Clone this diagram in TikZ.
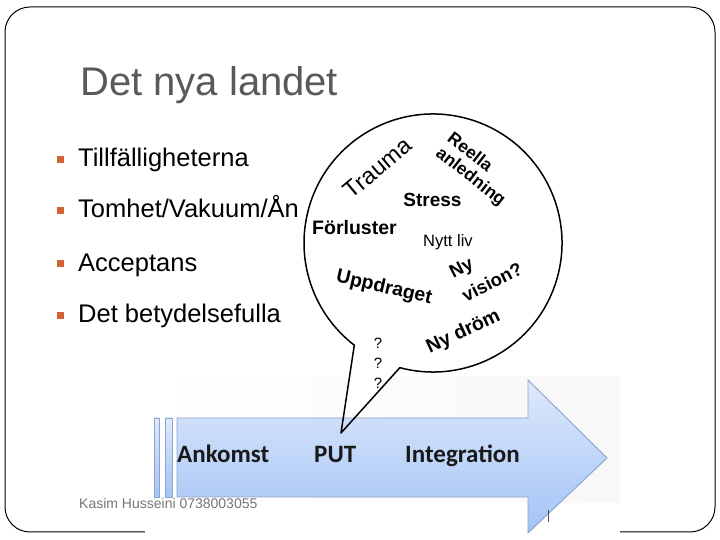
\documentclass[tikz,border=0pt]{standalone}
\usepackage{fontspec}
\setmainfont{Liberation Sans}
\newfontfamily\calib{Carlito}
\begin{document}
\begin{tikzpicture}[x=1pt,y=1pt,
  bullettxt/.style={anchor=base west,inner sep=0pt,font=\fontsize{25.5}{30}\selectfont},
  bubtxt/.style={inner sep=0pt,font=\bfseries\fontsize{19.5}{22}\selectfont},
  arrowlbl/.style={anchor=base west,inner sep=0pt,text={rgb,255:red,25;green,25;blue,25},font=\calib\bfseries\fontsize{25}{28}\selectfont},
  bulletsq/.style={fill={rgb,255:red,208;green,98;blue,52},minimum size=7pt,inner sep=0pt},
  arrowsty/.style={draw={rgb,255:red,140;green,162;blue,204},line width=0.9pt,
     top color={rgb,255:red,222;green,233;blue,252},bottom color={rgb,255:red,163;green,195;blue,246}}
]
\useasboundingbox (0,0) rectangle (720,540);
\fill[white] (0,0) rectangle (720,540);
% slide frame
\draw[line width=1pt] (5,8) [rounded corners=25pt] rectangle (715,533);
% picture background covering bottom frame
\shade[left color=white,right color={rgb,255:red,248;green,248;blue,248}] (145,37) rectangle (620,163);
\fill[white] (145,-1) rectangle (620,37);
% title
\node[anchor=base west,inner sep=0pt,text={rgb,255:red,89;green,89;blue,89},font=\fontsize{40}{46}\selectfont] (title) at (80,444) {Det nya landet};
% bullets
\node[bulletsq] (b1) at (60.5,380) {};
\node[bullettxt] (t1) at (78,373) {Tillfälligheterna};
\node[bulletsq] (b2) at (60.5,329) {};
\node[bullettxt] (t2) at (78,322) {Tomhet/Vakuum/Ån};
\node[bulletsq] (b3) at (60.5,276) {};
\node[bullettxt] (t3) at (78,268) {Acceptans};
\node[bulletsq] (b4) at (60.5,224) {};
\node[bullettxt] (t4) at (78,217) {Det betydelsefulla};
% speech bubble fill
\coordinate (C) at (433,297);
\coordinate (T) at (341,107);
\fill[white] (C) ++(255.1:129) arc[start angle=255.1,end angle=592.4,radius=129] -- (T) -- cycle;
% arrow
\path[arrowsty] (154,43) rectangle (159,122);
\path[arrowsty] (165,43) rectangle (172,122);
\path[arrowsty] (177,43) -- (528,43) -- (528,7) -- (607,82) -- (528,160) -- (528,122) -- (177,122) -- cycle;
\draw[line width=0.8pt,black!70] (548,18) -- (548,30);
% bubble outline
\draw[line width=1.5pt,line join=round] (C) ++(255.1:129) arc[start angle=255.1,end angle=592.4,radius=129] -- (T) -- cycle;
% bubble texts
\node[inner sep=0pt,rotate=40,font=\fontsize{23.5}{26}\selectfont] (trauma) at (377.5,372) {Trauma};
\node[inner sep=0pt,rotate=-38,align=left,font=\bfseries\fontsize{17.5}{18.5}\selectfont] (reella) at (476,370) {Reella\\anledning};
\node[bubtxt,font=\bfseries\fontsize{19}{22}\selectfont] (stress) at (432.5,340.5) {Stress};
\node[bubtxt,anchor=base west] (forl) at (312,305) {Förluster};
\node[inner sep=0pt,anchor=base west,font=\fontsize{16.5}{19}\selectfont] (nytt) at (423,293) {Nytt liv};
\node[bubtxt,rotate=-13] (uppd) at (384,252) {Uppdraget};
\node[bubtxt,rotate=27,font=\bfseries\fontsize{18.5}{21}\selectfont] (ny) at (462,271) {Ny};
\node[bubtxt,rotate=27,font=\bfseries\fontsize{18.5}{21}\selectfont] (vision) at (492,258) {vision?};
\node[bubtxt,rotate=25,font=\bfseries\fontsize{19.5}{22}\selectfont] (drom) at (463.5,207.5) {Ny dröm};
\node[inner sep=0pt,font=\fontsize{15}{17}\selectfont] (q1) at (378,197) {?};
\node[inner sep=0pt,font=\fontsize{15}{17}\selectfont] (q2) at (378,177) {?};
\node[inner sep=0pt,font=\fontsize{15}{17}\selectfont] (q3) at (378,157) {?};
% arrow labels
\node[arrowlbl] (ank) at (177,77) {Ankomst};
\node[arrowlbl] (put) at (314,77) {PUT};
\node[arrowlbl] (integ) at (405,77) {Integration};
% footer
\node[anchor=base west,inner sep=0pt,text={rgb,255:red,118;green,118;blue,118},font=\fontsize{14}{16}\selectfont] (foot) at (79,31) {Kasim Husseini 0738003055};
\end{tikzpicture}
\end{document}
